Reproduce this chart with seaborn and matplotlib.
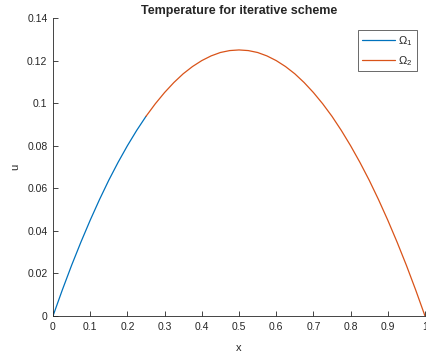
import matplotlib
matplotlib.use("Agg")
import matplotlib.pyplot as plt
import seaborn as sns
import pandas as pd

# Curve values (x step 0.025)
x1 = [0.0, 0.025, 0.05, 0.075, 0.1, 0.125, 0.15, 0.175, 0.2, 0.225, 0.25]
u1 = [0.0, 0.0122, 0.0238, 0.0347, 0.045, 0.0547, 0.0638, 0.0722, 0.08, 0.0872, 0.0938]

x2 = [0.25, 0.275, 0.3, 0.325, 0.35, 0.375, 0.4, 0.425, 0.45, 0.475, 0.5,
      0.525, 0.55, 0.575, 0.6, 0.625, 0.65, 0.675, 0.7, 0.725, 0.75,
      0.775, 0.8, 0.825, 0.85, 0.875, 0.9, 0.925, 0.95, 0.975, 1.0]
u2 = [0.0938, 0.0997, 0.105, 0.1097, 0.1138, 0.1172, 0.12, 0.1222, 0.1238, 0.1247, 0.125,
      0.1247, 0.1238, 0.1222, 0.12, 0.1172, 0.1138, 0.1097, 0.105, 0.0997, 0.0938,
      0.0872, 0.08, 0.0722, 0.0638, 0.0547, 0.045, 0.0347, 0.0238, 0.0122, 0.0]

labels = [r"$\Omega_1$", r"$\Omega_2$"]
xticks = [0, 0.1, 0.2, 0.3, 0.4, 0.5, 0.6, 0.7, 0.8, 0.9, 1]
xticklabels = ["0", "0.1", "0.2", "0.3", "0.4", "0.5", "0.6", "0.7", "0.8", "0.9", "1"]
yticks = [0, 0.02, 0.04, 0.06, 0.08, 0.1, 0.12, 0.14]
yticklabels = ["0", "0.02", "0.04", "0.06", "0.08", "0.1", "0.12", "0.14"]

df = pd.concat([
    pd.DataFrame({"x": x1, "u": u1, "domain": labels[0]}),
    pd.DataFrame({"x": x2, "u": u2, "domain": labels[1]}),
], ignore_index=True)

sns.set_style("white")
plt.rcParams["font.family"] = ["Liberation Sans", "DejaVu Sans"]
plt.rcParams["mathtext.fontset"] = "custom"
plt.rcParams["mathtext.rm"] = "Liberation Sans"
plt.rcParams["mathtext.it"] = "Liberation Sans"

fig = plt.figure(figsize=(4.27, 3.56), dpi=100)
ax = fig.add_axes([0.1241, 0.1124, 0.8712, 0.837])

sns.lineplot(data=df, x="x", y="u", hue="domain", sort=False,
             palette=["#0072BD", "#D95319"], linewidth=0.9, ax=ax,
             estimator=None)

ax.set_xlim(0, 1)
ax.set_ylim(0, 0.14)
ax.set_xticks(xticks)
ax.set_xticklabels(xticklabels)
ax.set_yticks(yticks)
ax.set_yticklabels(yticklabels)
ax.tick_params(direction="in", length=3.5, width=0.6, labelsize=7.5,
               colors="#262626", pad=4, bottom=True, left=True)
for s in ["top", "right"]:
    ax.spines[s].set_visible(False)
for s in ["left", "bottom"]:
    ax.spines[s].set_color("#262626")
    ax.spines[s].set_linewidth(0.6)

ax.set_xlabel("x", fontsize=8, color="#262626", labelpad=8)
ax.set_ylabel("u", fontsize=8, color="#262626", labelpad=5)
ax.set_title("Temperature for iterative scheme", fontsize=9, fontweight="bold",
             pad=3)

leg = ax.legend(loc="upper right", bbox_to_anchor=(0.978, 0.96), fontsize=8,
                frameon=True, fancybox=False, handlelength=3.0, borderpad=0.35,
                labelspacing=0.55, handletextpad=0.3, borderaxespad=0.0)
leg.get_frame().set_edgecolor("#262626")
leg.get_frame().set_linewidth(0.6)
leg.set_title(None)

fig.savefig("out.png", dpi=100)
